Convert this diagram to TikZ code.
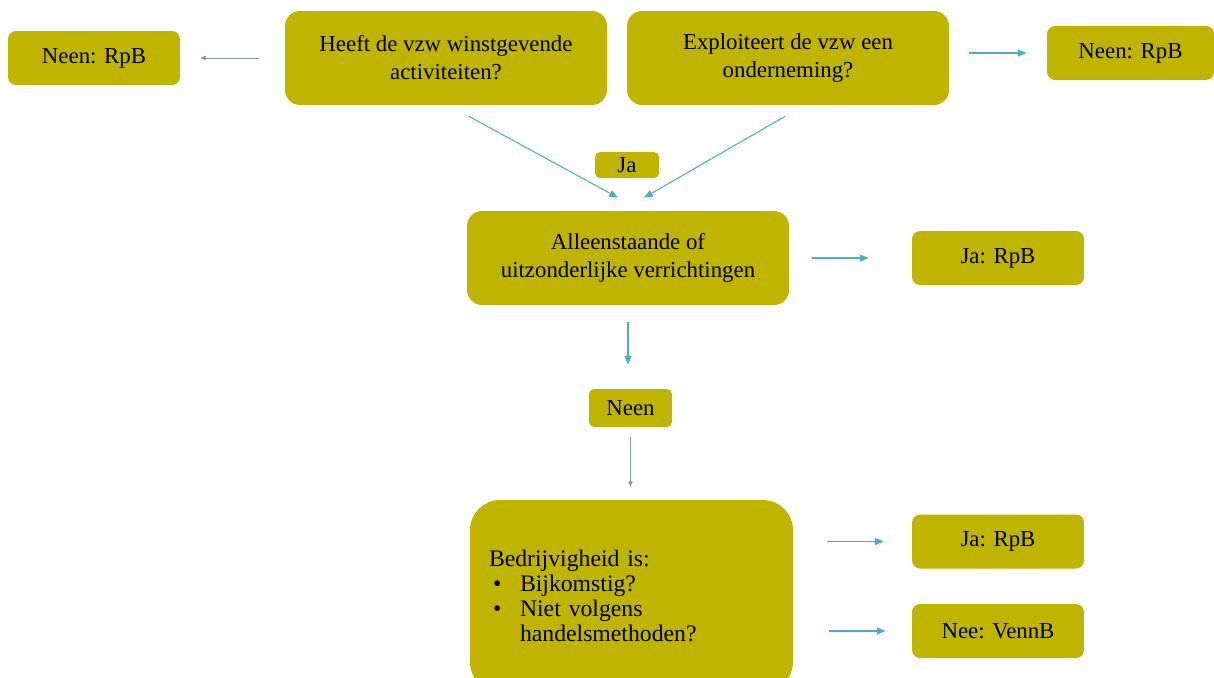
\documentclass[tikz,border=0pt]{standalone}
\usepackage{fontspec}
\setmainfont{Liberation Serif}
\usetikzlibrary{arrows.meta}
\definecolor{olijf}{RGB}{191,181,0}
\definecolor{pijlblauw}{RGB}{75,172,198}
\definecolor{vaag}{RGB}{125,155,160}

\begin{document}
\begin{tikzpicture}[x=0.02cm,y=-0.02cm]
\tikzstyle{every node}=[font=\fontsize{13}{15.9}\selectfont];
\tikzstyle{vak}=[fill=olijf,rounded corners=0.16cm,align=center,inner sep=1pt,minimum width=3.44cm,minimum height=1.08cm];
\tikzstyle{vraag}=[vak,rounded corners=0.3cm,minimum width=6.44cm,minimum height=1.88cm];
\tikzstyle{pijl}=[draw=pijlblauw,line width=0.6pt,-{Triangle[length=5pt,width=4pt]}];
\tikzstyle{vaagpijl}=[draw=vaag,line width=0.4pt,-{Triangle[length=3pt,width=2.5pt]}];
\path[use as bounding box,clip] (0,0) rectangle (1214,677);

% bovenste rij
\node[vak] (neenL) at (94,58) {Neen: RpB};
\node[vraag] (heeft) at (446,58) {Heeft de vzw winstgevende\\activiteiten?};
\node[vraag] (expl) at (788,58) {Exploiteert de vzw een\\onderneming?};
\node[vak,minimum width=3.34cm] (neenR) at (1130.5,53) {Neen: RpB};

% midden
\node[vak,minimum width=1.28cm,minimum height=0.52cm,rounded corners=0.1cm] (ja) at (627,165) {Ja};
\node[vraag] (alleen) at (628,258) {Alleenstaande of\\uitzonderlijke verrichtingen};
\node[vak] (jaRpB1) at (998,258) {Ja: RpB};
\node[vak,minimum width=1.66cm,minimum height=0.76cm,rounded corners=0.1cm] (neen) at (630.5,408) {Neen};

% onderaan
\node[vraag,rounded corners=0.6cm,minimum width=6.46cm,minimum height=3.84cm,align=left,text width=5.7cm,inner xsep=0.38cm,font=\fontsize{13.5}{14.2}\selectfont] (bedrijf) at (631.5,596)
  {Bedrijvigheid is:\\
   \makebox[0.62cm][l]{\hspace{0.08cm}\textbullet}Bijkomstig?\\
   \makebox[0.62cm][l]{\hspace{0.08cm}\textbullet}Niet volgens\\
   \makebox[0.62cm][l]{}handelsmethoden?};
\node[vak] (jaRpB2) at (998,541.5) {Ja: RpB};
\node[vak] (neeV) at (998,631) {Nee: VennB};

% pijlen
\draw[vaagpijl,shorten <=0.52cm,shorten >=0.4cm] (heeft.west |- neenL) -- (neenL.east);
\draw[pijl,shorten <=0.4cm,shorten >=0.4cm] (expl.east |- neenR) -- (neenR.west);
\draw[pijl] ([shift={(23,11)}]heeft.south) -- ([shift={(-10,-13)}]alleen.north);
\draw[pijl] ([shift={(-3,11)}]expl.south) -- ([shift={(16,-13)}]alleen.north);
\draw[pijl,shorten <=0.46cm,shorten >=0.86cm] (alleen.east) -- (jaRpB1.west);
\draw[pijl,shorten <=0.34cm,shorten >=0.48cm] (alleen.south) -- (alleen.south |- neen.north);
\draw[vaagpijl,shorten <=0.2cm,shorten >=0.26cm] (neen.south) -- (neen.south |- bedrijf.north);
\draw[pijl,shorten <=0.68cm,shorten >=0.56cm] (bedrijf.east |- jaRpB2) -- (jaRpB2.west);
\draw[pijl,shorten <=0.72cm,shorten >=0.52cm] (bedrijf.east |- neeV) -- (neeV.west);
\end{tikzpicture}
\end{document}
